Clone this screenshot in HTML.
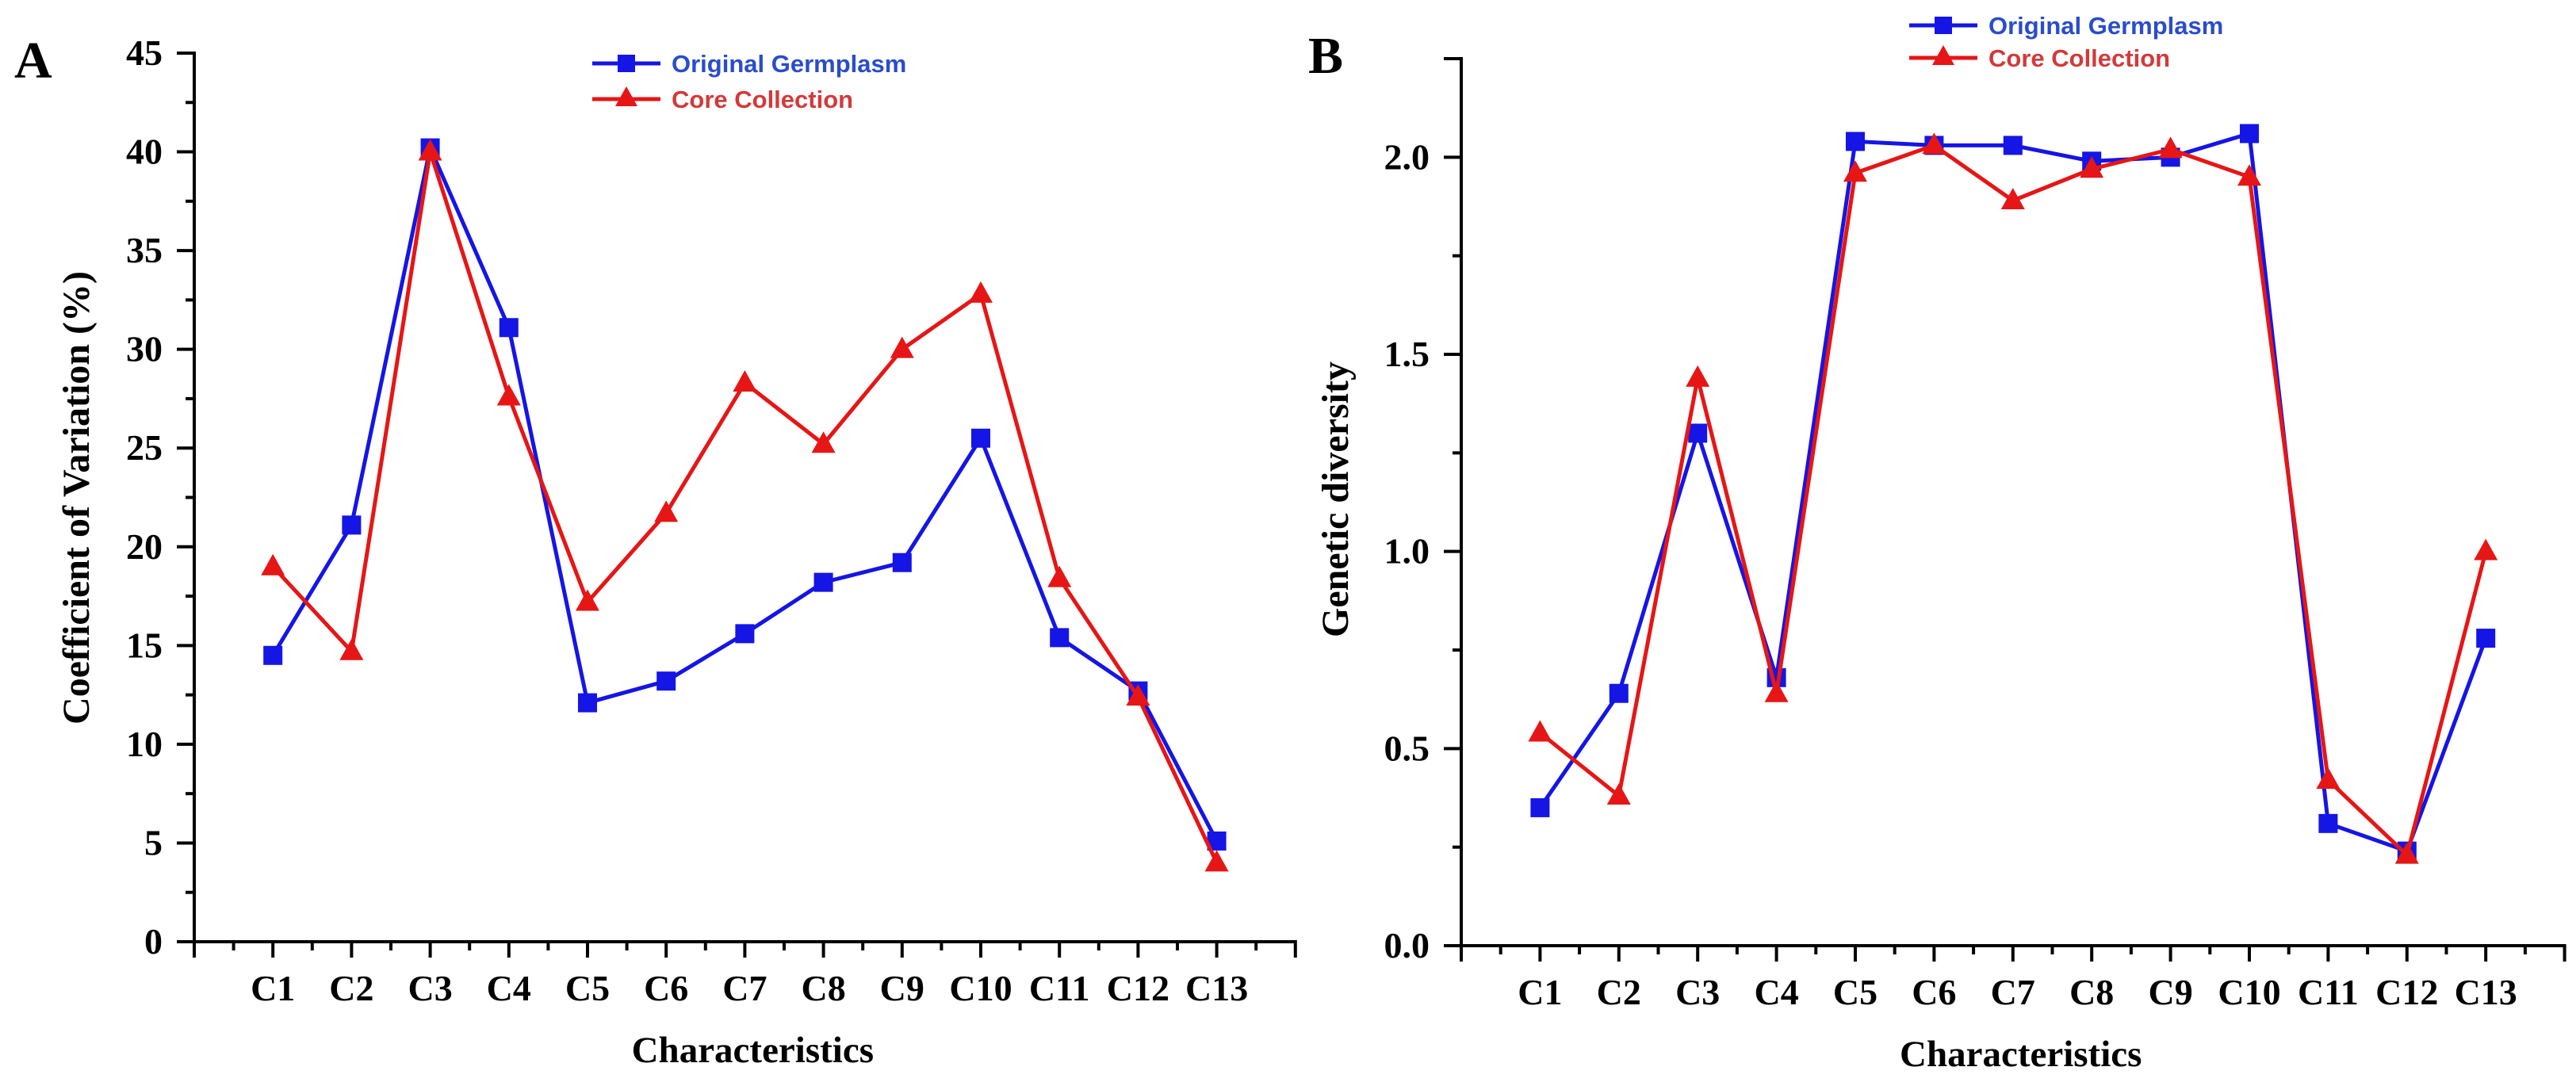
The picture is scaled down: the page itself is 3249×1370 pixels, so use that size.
<!DOCTYPE html>
<html><head><meta charset="utf-8"><style>
html,body{margin:0;padding:0;background:#fff;}
svg{display:block;}
</style></head><body>
<svg id="chart" width="3249" height="1370" viewBox="0 0 3249 1370" xmlns="http://www.w3.org/2000/svg">
<rect width="3249" height="1370" fill="#fff"/>
<g id="panelA"></g>
<g id="panelB"></g>
</svg>
<script>
const categories = ["C1","C2","C3","C4","C5","C6","C7","C8","C9","C10","C11","C12","C13"];
const cvOriginal = [14.5,21.1,40.2,31.1,12.1,13.2,15.6,18.2,19.2,25.5,15.4,12.7,5.1];
const cvCore = [19.0,14.7,40.0,27.6,17.2,21.7,28.3,25.2,30.0,32.8,18.4,12.4,4.0];
const gdOriginal = [0.35,0.64,1.30,0.68,2.04,2.03,2.03,1.99,2.00,2.06,0.31,0.24,0.78];
const gdCore = [0.54,0.38,1.44,0.64,1.96,2.03,1.89,1.97,2.02,1.95,0.42,0.23,1.00];
const cvTicks = ["0","5","10","15","20","25","30","35","40","45"];
const gdTicks = ["0.0","0.5","1.0","1.5","2.0"];

const NS = "http://www.w3.org/2000/svg";
function mk(parent, tag, attrs, text){
  const e = document.createElementNS(NS, tag);
  for (const k in attrs) e.setAttribute(k, attrs[k]);
  if (text !== undefined) e.textContent = text;
  parent.appendChild(e);
  return e;
}
const BLUE = "#1515e6", RED = "#e61616";

function drawPanel(g, cfg){
  const x = i => cfg.x0 + (i + 1) * cfg.step;
  const y = v => cfg.y0 - (v - cfg.ymin) / (cfg.ymax - cfg.ymin) * (cfg.y0 - cfg.yTop);
  const xEnd = cfg.x0 + 14 * cfg.step;
  const ax = mk(g, "path", {d:`M${cfg.x0-22},${cfg.yTop} H${cfg.x0} V${cfg.y0+20} M${cfg.x0-22},${cfg.y0} H${xEnd} V${cfg.y0+20}`, fill:"none", stroke:"#000", "stroke-width":4});
  
  
  cfg.ticks.forEach((t, i) => {
    const v = parseFloat(t);
    const yy = y(v);
    const tk = mk(g, "line", {x1:cfg.x0-22, x2:cfg.x0, y1:yy, y2:yy, stroke:"#000", "stroke-width":4});
    
    
    const lb = mk(g, "text", {x:cfg.x0-40, y:yy+15, "text-anchor":"end", "font-family":"Liberation Serif, serif", "font-weight":"bold", "font-size":46}, t);
    
    
    const vm = v + cfg.minor;
    if (vm <= cfg.ymax + 1e-9) {
      const ym = y(vm);
      const mt = mk(g, "line", {x1:cfg.x0-11, x2:cfg.x0, y1:ym, y2:ym, stroke:"#000", "stroke-width":4});
      
      
    }
  });
  for (let i = 0; i < 14; i++) {
    const mx = cfg.x0 + (i + 0.5) * cfg.step;
    const mt = mk(g, "line", {x1:mx, x2:mx, y1:cfg.y0, y2:cfg.y0+11, stroke:"#000", "stroke-width":4});
    
    
  }
  categories.forEach((c, i) => {
    const tk = mk(g, "line", {x1:x(i), x2:x(i), y1:cfg.y0, y2:cfg.y0+20, stroke:"#000", "stroke-width":4});
    
    
    const lb = mk(g, "text", {x:x(i), y:cfg.y0+74, "text-anchor":"middle", "font-family":"Liberation Serif, serif", "font-weight":"bold", "font-size":46}, c);
    
    
  });
  const xt = mk(g, "text", {x:cfg.x0+7.1*cfg.step, y:cfg.y0+152, "text-anchor":"middle", "font-family":"Liberation Serif, serif", "font-weight":"bold", "font-size":47}, "Characteristics");
  
  
  const yt = mk(g, "text", {x:0, y:0, transform:`translate(${cfg.ytx},${cfg.yty}) rotate(-90)`, "text-anchor":"middle", "font-family":"Liberation Serif, serif", "font-weight":"bold", "font-size":cfg.ytSize}, cfg.ytitle);
  
  
  const pl = mk(g, "text", {x:cfg.plx, y:cfg.ply, "font-family":"Liberation Serif, serif", "font-weight":"bold", "font-size":66}, cfg.letter);
  
  

  function series(vals, color, shape, name){
    const sg = mk(g, "g", {});
    
    
    const pts = vals.map((v, i) => `${x(i)},${y(v)}`).join(" ");
    const pl = mk(sg, "polyline", {points:pts, fill:"none", stroke:color, "stroke-width":5, "stroke-linejoin":"round"});
    
    
    vals.forEach((v, i) => {
      let m;
      if (shape === "sq") m = mk(sg, "rect", {x:x(i)-12, y:y(v)-12, width:24, height:24, fill:color});
      else m = mk(sg, "polygon", {points:`${x(i)},${y(v)-16} ${x(i)-15},${y(v)+11} ${x(i)+15},${y(v)+11}`, fill:color});
      
      
    });
  }
  series(cfg.a, BLUE, "sq", "original-germplasm-series");
  series(cfg.b, RED, "tri", "core-collection-series");

  const lg = mk(g, "g", {});
  
  
  const L = cfg.legend;
  [[BLUE, "sq", "Original Germplasm", L.y1, "#2a4ccc"], [RED, "tri", "Core Collection", L.y2, "#d23a3a"]].forEach(r => {
    const e = mk(lg, "g", {});
    
    
    mk(e, "line", {x1:L.x, x2:L.x+86, y1:r[3], y2:r[3], stroke:r[0], "stroke-width":5});
    const cx = L.x + 43;
    if (r[1] === "sq") mk(e, "rect", {x:cx-11, y:r[3]-11, width:22, height:22, fill:r[0]});
    else mk(e, "polygon", {points:`${cx},${r[3]-16} ${cx-14},${r[3]+9} ${cx+14},${r[3]+9}`, fill:r[0]});
    mk(e, "text", {x:L.x+100, y:r[3]+11, "font-family":"Liberation Sans, sans-serif", "font-weight":"bold", "font-size":31, fill:r[4]}, r[2]);
  });
}

drawPanel(document.getElementById("panelA"), {
  x0:245, step:99.2, y0:1188, yTop:67, ymin:0, ymax:45, minor:2.5,
  ticks:cvTicks, a:cvOriginal, b:cvCore,
  ytitle:"Coefficient of Variation (%)", ytx:112, yty:628, ytSize:48,
  letter:"A", plx:18, ply:98,
  legend:{x:747, y1:80, y2:125}
});
drawPanel(document.getElementById("panelB"), {
  x0:1843, step:99.4, y0:1193, yTop:74, ymin:0, ymax:2.25, minor:0.25,
  ticks:gdTicks, a:gdOriginal, b:gdCore,
  ytitle:"Genetic diversity", ytx:1700, yty:630, ytSize:48,
  letter:"B", plx:1650, ply:92,
  legend:{x:2408, y1:32, y2:73}
});
</script>
</body></html>
